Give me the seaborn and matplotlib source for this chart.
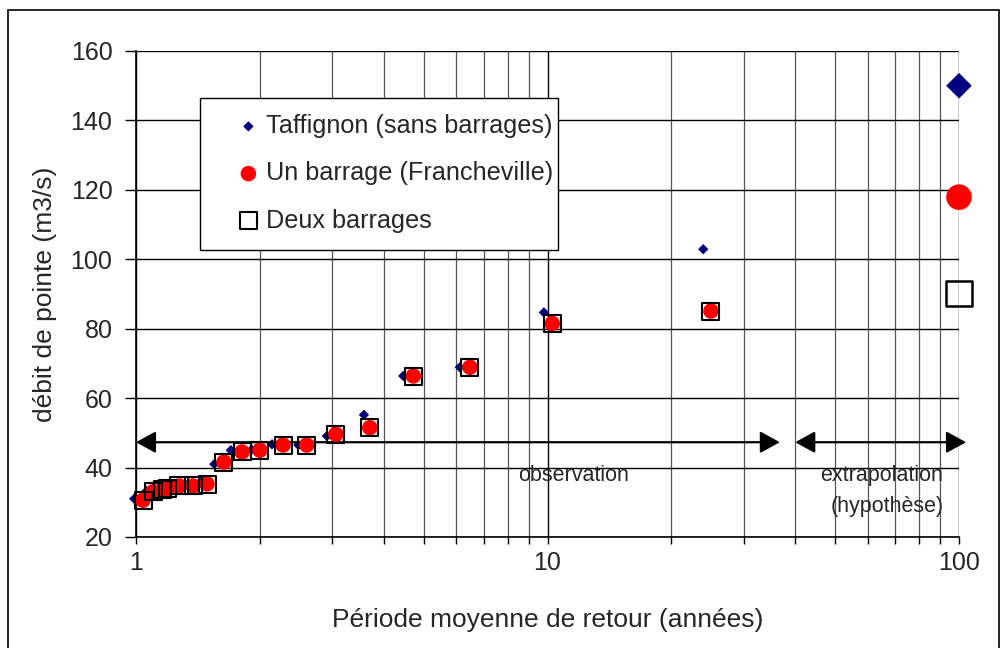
import numpy as np
import pandas as pd
import matplotlib
matplotlib.use("Agg")
import matplotlib.pyplot as plt
import seaborn as sns
from matplotlib.patches import Rectangle

# observed return periods (years) and peak discharge (m3/s)
periode_taffignon = [0.99, 1.06, 1.11, 1.15, 1.22, 1.32, 1.43, 1.55, 1.70, 1.91,
                     2.14, 2.48, 2.91, 3.58, 4.46, 6.12, 9.80, 23.9]
debit_taffignon = [31.0, 33.2, 33.8, 34.3, 35.0, 35.0, 35.6, 41.0, 45.0, 45.2,
                   46.7, 46.5, 49.1, 55.2, 66.4, 68.9, 84.7, 102.9]

periode_barrages = [1.04, 1.10, 1.157, 1.196, 1.272, 1.376, 1.488, 1.636, 1.81, 2.0,
                    2.277, 2.60, 3.06, 3.70, 4.72, 6.48, 10.27, 24.96]
debit_un_barrage = [30.6, 33.0, 33.5, 34.0, 34.7, 34.7, 35.3, 41.6, 44.5, 45.0,
                    46.5, 46.5, 49.6, 51.5, 66.4, 68.9, 81.5, 85.1]
debit_deux_barrages = [30.6, 33.2, 33.6, 34.1, 34.7, 34.7, 35.2, 41.4, 44.6, 45.0,
                       46.4, 46.4, 49.4, 51.5, 66.2, 68.7, 81.6, 85.0]

# extrapolated 100-year values
periode_extrap = [100]
extrap_taffignon = [150.0]
extrap_un_barrage = [117.9]
extrap_deux_barrages = [90.2]

labels = ["Taffignon (sans barrages)", "Un barrage (Francheville)", "Deux barrages"]

W, H = 1002, 648

sns.set_style("white")
plt.rcParams['font.family'] = ['Liberation Sans', 'DejaVu Sans']

fig = plt.figure(figsize=(W / 100, H / 100), dpi=100)
ax = fig.add_axes([136 / W, 1 - 537 / H, (959 - 136) / W, (537 - 51) / H])

# outer chart border
fig.patches.append(Rectangle((8 / W, -0.05), 991 / W, 1.05 - 10 / H,
                             transform=fig.transFigure, fill=False,
                             edgecolor="black", lw=1.2))

df_t = pd.DataFrame({"x": periode_taffignon, "y": debit_taffignon})
df_u = pd.DataFrame({"x": periode_barrages, "y": debit_un_barrage})
df_d = pd.DataFrame({"x": periode_barrages, "y": debit_deux_barrages})

sns.scatterplot(data=df_t, x="x", y="y", ax=ax, marker="D", s=28, color="#000080",
                edgecolor="none", label=labels[0], zorder=3, clip_on=False)
sns.scatterplot(data=df_u, x="x", y="y", ax=ax, marker="o", s=125, color="#ff0000",
                edgecolor="none", label=labels[1], zorder=4, clip_on=False)
sns.scatterplot(data=df_d, x="x", y="y", ax=ax, marker="s", s=150, facecolor="none",
                edgecolor="black", linewidth=1.5, label=labels[2], zorder=5, clip_on=False)

# extrapolated points, bigger markers
ax.scatter(periode_extrap, extrap_taffignon, marker="D", s=170, color="#000080",
           edgecolor="none", zorder=3, clip_on=False)
ax.scatter(periode_extrap, extrap_un_barrage, marker="o", s=340, color="#ff0000",
           edgecolor="none", zorder=4, clip_on=False)
ax.scatter(periode_extrap, extrap_deux_barrages, marker="s", s=330, facecolor="none",
           edgecolor="black", linewidth=1.8, zorder=5, clip_on=False)

ax.set_xscale("log")
ax.set_xlim(1, 100)
ax.set_ylim(20, 160)
ax.set_yticks(np.arange(20, 161, 20))
ax.set_xticks([1, 10, 100])
ax.set_xticklabels(["1", "10", "100"])
ax.minorticks_on()
ax.yaxis.set_minor_locator(matplotlib.ticker.NullLocator())

ax.grid(True, which="major", color="black", lw=1.0)
ax.grid(True, which="minor", axis="x", color="#555555", lw=0.9)
ax.set_axisbelow(True)

for s in ["top", "right"]:
    ax.spines[s].set_visible(False)
for s in ["left", "bottom"]:
    ax.spines[s].set_color("black")
    ax.spines[s].set_linewidth(1.2)

ax.tick_params(axis="y", which="major", direction="out", length=8, width=1,
               color="black", labelsize=18, pad=9, left=True)
ax.tick_params(axis="x", which="both", direction="out", length=5, width=1,
               color="black", labelsize=18, pad=5, bottom=True)

ax.set_xlabel("Période moyenne de retour (années)", fontsize=19, labelpad=24)
ax.set_ylabel("débit de pointe (m3/s)", fontsize=19, labelpad=10)

# observation / extrapolation arrows
arrow = dict(arrowstyle="<|-|>,head_length=0.6,head_width=0.33", color="black",
             lw=1.6, mutation_scale=20, shrinkA=0, shrinkB=0)
ax.annotate("", xy=(36.7, 47.3), xytext=(1.0, 47.3), arrowprops=arrow,
            annotation_clip=False)
ax.annotate("", xy=(104, 47.3), xytext=(40.0, 47.3), arrowprops=arrow,
            annotation_clip=False)
ax.text(11.6, 37.6, "observation", ha="center", va="center", fontsize=15.5)
ax.text(91.4, 37.6, "extrapolation", ha="right", va="center", fontsize=15.5)
ax.text(91.9, 28.8, "(hypothèse)", ha="right", va="center", fontsize=15.5)

# legend: white box drawn separately, entries placed inside it
ax.add_patch(Rectangle((200 / W, 1 - 250 / H), 358 / W, 152 / H,
                       transform=fig.transFigure, facecolor="white",
                       edgecolor="black", lw=1.0, zorder=6, clip_on=False))
leg = ax.legend(loc="upper left", bbox_to_anchor=(236 / W, 1 - 114 / H),
                bbox_transform=fig.transFigure, fontsize=18.2, frameon=False,
                labelspacing=0.92, handletextpad=0.19, borderpad=0,
                handlelength=0.98, borderaxespad=0)
leg.set_zorder(7)

fig.savefig("out.png", dpi=100)
